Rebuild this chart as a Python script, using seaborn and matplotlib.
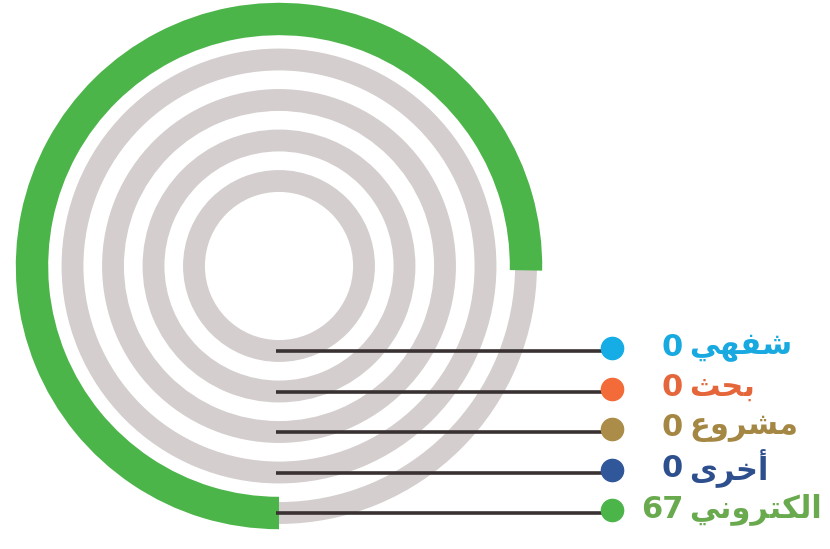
import numpy as np
import pandas as pd
import matplotlib
matplotlib.use("Agg")
import matplotlib.pyplot as plt
import seaborn as sns

# rings from the inside out
categories = ["شفهي", "بحث", "مشروع", "أخرى", "الكتروني"]
values = [0, 0, 0, 0, 67]
scale_max = 89
colors = ["#16ade6", "#f26b38", "#ab8c48", "#30579a", "#4cb54a"]
text_colors = ["#17a9e0", "#e5663a", "#a58744", "#2d4f8e", "#6aaa4f"]

# Arabic presentation forms: isolated, final, initial, medial
FORMS = {
    "ا": ("\uFE8D", "\uFE8E", None, None),
    "أ": ("\uFE83", "\uFE84", None, None),
    "ب": ("\uFE8F", "\uFE90", "\uFE91", "\uFE92"),
    "ت": ("\uFE95", "\uFE96", "\uFE97", "\uFE98"),
    "ث": ("\uFE99", "\uFE9A", "\uFE9B", "\uFE9C"),
    "ح": ("\uFEA1", "\uFEA2", "\uFEA3", "\uFEA4"),
    "خ": ("\uFEA5", "\uFEA6", "\uFEA7", "\uFEA8"),
    "ر": ("\uFEAD", "\uFEAE", None, None),
    "ش": ("\uFEB5", "\uFEB6", "\uFEB7", "\uFEB8"),
    "ع": ("\uFEC9", "\uFECA", "\uFECB", "\uFECC"),
    "ف": ("\uFED1", "\uFED2", "\uFED3", "\uFED4"),
    "ك": ("\uFED9", "\uFEDA", "\uFEDB", "\uFEDC"),
    "ل": ("\uFEDD", "\uFEDE", "\uFEDF", "\uFEE0"),
    "م": ("\uFEE1", "\uFEE2", "\uFEE3", "\uFEE4"),
    "ن": ("\uFEE5", "\uFEE6", "\uFEE7", "\uFEE8"),
    "ه": ("\uFEE9", "\uFEEA", "\uFEEB", "\uFEEC"),
    "و": ("\uFEED", "\uFEEE", None, None),
    "ى": ("\uFEEF", "\uFEF0", None, None),
    "ي": ("\uFEF1", "\uFEF2", "\uFEF3", "\uFEF4"),
}


def shape_arabic(word):
    # join letters and put them in visual (left to right) order
    out = []
    for i, ch in enumerate(word):
        iso, fin, ini, med = FORMS[ch]
        join_prev = i > 0 and FORMS[word[i - 1]][2] is not None
        join_next = i + 1 < len(word) and ini is not None
        if join_prev and join_next:
            out.append(med)
        elif join_prev:
            out.append(fin)
        elif join_next:
            out.append(ini)
        else:
            out.append(iso)
    return "".join(reversed(out))


sns.set_theme(style="white")
plt.rcParams["font.family"] = ["DejaVu Sans"]

# ring radius from ring index (units are pixels of the figure)
radii = [85 + 40.5 * i for i in range(len(categories))]
df = pd.DataFrame({
    "category": categories,
    "radius": radii,
    "track": [2 * np.pi] * len(categories),
    "angle": [v / scale_max * 2 * np.pi for v in values],
})

fig = plt.figure(figsize=(8.3, 5.49), dpi=100)
fig.patch.set_facecolor("white")
R = 270
rect = [9 / 830, 13 / 549, 540 / 830, 540 / 549]
pax = fig.add_axes(rect, projection="polar")

sns.barplot(data=df, x="track", y="radius", orient="y", native_scale=True,
            color="#d4cece", saturation=1, width=0.54, linewidth=0,
            errorbar=None, ax=pax)
sns.barplot(data=df, x="angle", y="radius", orient="y", native_scale=True,
            hue="category", palette=colors, saturation=1, width=0.8,
            linewidth=0, errorbar=None, legend=False, ax=pax)
pax.set_theta_zero_location("S")
pax.set_theta_direction(-1)
pax.set_ylim(0, R)
pax.set_axis_off()

# cartesian overlay for leader lines, dots and labels
cax = fig.add_axes(rect)
cax.set_xlim(-R, R)
cax.set_ylim(-R, R)
cax.set_axis_off()
cax.patch.set_alpha(0)

ys = [-r for r in radii]
cax.hlines(ys, -3, 333, color="#3a3232", linewidth=2.6, clip_on=False)
for y, c, tc, cat, v in zip(ys, colors, text_colors, categories, values):
    cax.plot(333, y + 3, "o", color=c, markersize=16, clip_on=False)
    cax.text(404, y + 4, str(v), color=tc, fontsize=22, fontweight="bold",
             ha="right", va="center", clip_on=False)
    cax.text(410, y + 4, shape_arabic(cat), color=tc, fontsize=22,
             fontweight="bold", ha="left", va="center", clip_on=False)

fig.savefig("out.png", dpi=100, facecolor="white")
